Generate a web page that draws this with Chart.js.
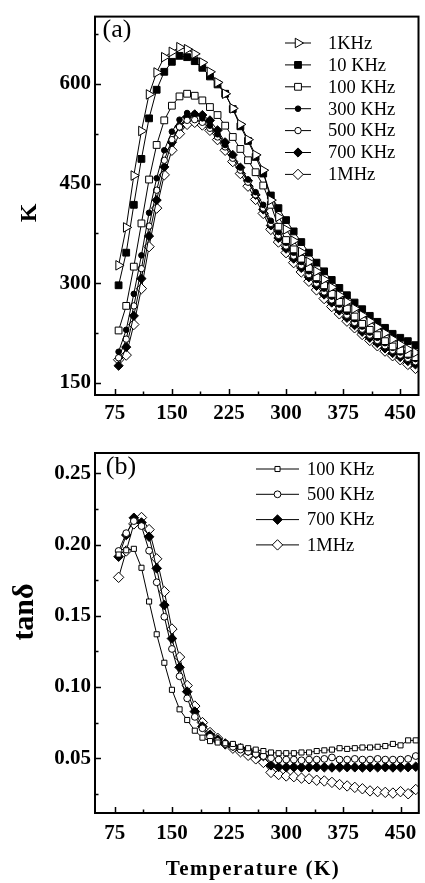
<!DOCTYPE html>
<html><head><meta charset="utf-8">
<script src="https://cdn.jsdelivr.net/npm/chart.js@4.4.1/dist/chart.umd.min.js"></script>
<style>
html,body{margin:0;padding:0;background:#fff;width:425px;height:883px;overflow:hidden}
canvas{position:absolute;left:0}
#c1{top:0;width:425px;height:430px}
#c2{top:430px;width:425px;height:453px}
</style></head><body>
<canvas id="c1" width="425" height="430"></canvas>
<canvas id="c2" width="425" height="453"></canvas>
<script>
// ---------- data ----------
const temperatures = [80,90,100,110,120,130,140,150,160,170,180,190,200,210,220,230,240,250,260,270,280,290,300,310,320,330,340,350,360,370,380,390,400,410,420,430,440,450,460,470];

// panel (a): dielectric constant K
const k1KHz   = [327,384,462,529,584,617,640,648,655,652,645,632,618,602,585,563,539,516,493,470,425,400,381,364,347,332,318,306,294,282,272,262,252,243,234,225,216,208,201,196];
const k10KHz  = [297,346,418,487,548,591,618,633,642,640,634,624,611,599,585,562,536,514,490,465,432,413,395,378,362,346,331,318,305,293,282,271,261,251,242,233,224,218,213,207];
const k100KHz = [229,266,325,390,456,508,545,567,581,585,582,575,565,553,537,520,502,485,467,447,418,385,365,351,337,323,309,297,284,272,262,250,239,230,222,213,205,199,194,189];
const k300KHz = [197,230,284,342,406,458,500,528,546,556,555,548,537,524,508,492,474,456,437,418,394,377,361,346,332,318,305,292,280,268,257,246,235,226,218,210,203,196,191,186];
const k500KHz = [188,216,266,322,386,440,485,516,535,545,546,542,533,520,505,488,470,452,433,413,390,372,356,341,327,313,300,287,275,263,252,241,231,222,214,206,199,192,187,182];
const k700KHz = [176,204,251,307,371,425,475,512,536,550,554,553,545,530,512,493,474,454,433,411,387,368,352,337,323,309,296,283,271,259,248,237,227,218,210,202,195,189,183,178];
const k1MHz   = [185,192,238,292,355,413,463,500,525,539,542,538,530,516,500,483,465,446,426,405,381,362,346,331,317,303,290,277,265,254,243,233,223,214,206,198,191,185,178,172];

// panel (b): tan delta
const t100KHz = [0.193,0.196,0.197,0.1837,0.160,0.137,0.117,0.098,0.0843,0.0768,0.0693,0.0644,0.062,0.061,0.0605,0.060,0.058,0.057,0.056,0.055,0.054,0.0535,0.0535,0.0535,0.054,0.054,0.055,0.0555,0.056,0.057,0.0565,0.057,0.0575,0.0575,0.058,0.0585,0.060,0.059,0.0625,0.0625];
const t500KHz = [0.1955,0.208,0.2165,0.213,0.1957,0.1735,0.1493,0.1267,0.1075,0.092,0.079,0.071,0.065,0.062,0.060,0.058,0.056,0.0545,0.053,0.0515,0.050,0.049,0.049,0.049,0.0485,0.049,0.049,0.0495,0.0505,0.049,0.049,0.0495,0.049,0.049,0.0495,0.049,0.049,0.049,0.0495,0.0515];
const t700KHz = [0.1915,0.2067,0.2188,0.2155,0.2055,0.1833,0.1575,0.134,0.1138,0.0967,0.0827,0.0722,0.0665,0.063,0.060,0.0585,0.057,0.055,0.053,0.0515,0.045,0.0438,0.0436,0.0437,0.0435,0.0436,0.0437,0.0436,0.0435,0.0436,0.0437,0.0436,0.0435,0.0436,0.0436,0.0437,0.0435,0.0436,0.0437,0.044];
const t1MHz   = [0.177,0.1955,0.2145,0.219,0.2105,0.19,0.167,0.1407,0.121,0.101,0.0866,0.075,0.068,0.064,0.060,0.057,0.0545,0.052,0.0495,0.047,0.040,0.0385,0.0375,0.037,0.036,0.0355,0.0345,0.034,0.033,0.0315,0.0305,0.0295,0.0285,0.027,0.0265,0.026,0.0255,0.0265,0.025,0.028];

// ticks / labels
const tempTicks  = [75,150,225,300,375,450];
const tempMinor  = [112.5,187.5,262.5,337.5,412.5];
const kTicks     = [150,300,450,600];
const kMinor     = [225,375,525,675];
const tanTicks   = [0.05,0.10,0.15,0.20,0.25];
const tanMinor   = [0.025,0.075,0.125,0.175,0.225];
const labelsA    = ['1KHz','10 KHz','100 KHz','300 KHz','500 KHz','700 KHz','1MHz'];
const labelsB    = ['100 KHz','500 KHz','700 KHz','1MHz'];

// ---------- helpers ----------
const SERIF = '"Liberation Serif","Times New Roman",serif';
const pts = arr => temperatures.map((t,i)=>({x:t,y:arr[i]}));

function ds(label, arr, style){
  return Object.assign({
    label, data: pts(arr), showLine:true, borderColor:'#000', borderWidth:1, tension:0,
    pointBorderColor:'#000', pointBorderWidth:1, pointHoverRadius:0
  }, style);
}
function mk(style, r, fill, rot){ return {pointStyle:style, pointRadius:r, pointBackgroundColor:fill, pointRotation:rot||0}; }

const decor = {
  id:'decor',
  afterDraw(chart, args, o){
    const {ctx, chartArea:a, scales} = chart;
    const x = scales.x, y = scales.y;
    ctx.save();
    ctx.strokeStyle = '#000';
    ctx.lineWidth = 1.5;
    ctx.beginPath();
    o.xMajor.forEach(v=>{const p=Math.round(x.getPixelForValue(v))+0.5; ctx.moveTo(p,a.bottom); ctx.lineTo(p,a.bottom-6);});
    o.xMinor.forEach(v=>{const p=Math.round(x.getPixelForValue(v))+0.5; ctx.moveTo(p,a.bottom); ctx.lineTo(p,a.bottom-3.5);});
    o.yMajor.forEach(v=>{const p=Math.round(y.getPixelForValue(v))+0.5; ctx.moveTo(a.left,p); ctx.lineTo(a.left+6,p);});
    o.yMinor.forEach(v=>{const p=Math.round(y.getPixelForValue(v))+0.5; ctx.moveTo(a.left,p); ctx.lineTo(a.left+3.5,p);});
    ctx.stroke();
    ctx.lineWidth = 2;
    ctx.strokeRect(a.left, a.top, a.right-a.left, a.bottom-a.top);
    // legend
    const L = o.legend;
    chart.data.datasets.forEach((d,i)=>{
      const ly = L.y + i*L.step;
      ctx.lineWidth = 1; ctx.strokeStyle='#000';
      ctx.beginPath(); ctx.moveTo(L.x1, ly); ctx.lineTo(L.x2, ly); ctx.stroke();
      ctx.fillStyle = d.pointBackgroundColor; ctx.strokeStyle = '#000'; ctx.lineWidth = 1;
      Chart.helpers.drawPoint(ctx, {pointStyle:d.pointStyle, rotation:d.pointRotation||0, radius:d.pointRadius, borderWidth:1}, (L.x1+L.x2)/2, ly);
      ctx.fillStyle = '#000';
      ctx.font = L.font; ctx.textBaseline = 'middle'; ctx.textAlign = 'left';
      ctx.fillText(d.label, L.tx, ly+1);
    });
    // texts
    o.texts.forEach(t=>{
      ctx.save();
      ctx.fillStyle = '#000'; ctx.font = t.font; ctx.textAlign = 'center'; ctx.textBaseline = 'middle';
      if (t.ls) ctx.letterSpacing = t.ls;
      ctx.translate(t.x, t.y);
      if (t.rot) ctx.rotate(t.rot);
      ctx.fillText(t.text, 0, 0);
      ctx.restore();
    });
    ctx.restore();
  }
};

function scales(yMin, yMax, yTicks, fmt, xHeight, xPad){
  const tickFont = {family:SERIF, weight:'bold', size:21};
  return {
    x: {type:'linear', min:49, max:474,
        grid:{display:false, drawTicks:false}, border:{display:false},
        ticks:{font:tickFont, color:'#000', padding:xPad, maxRotation:0, autoSkip:false},
        afterBuildTicks: s => { s.ticks = tempTicks.map(v=>({value:v})); },
        afterFit: s => { s.height = xHeight; }},
    y: {type:'linear', min:yMin, max:yMax,
        grid:{display:false, drawTicks:false}, border:{display:false},
        ticks:{font:tickFont, color:'#000', padding:4, autoSkip:false, callback: fmt},
        afterBuildTicks: s => { s.ticks = yTicks.map(v=>({value:v})); },
        afterFit: s => { s.width = 95; }}
  };
}

const common = {responsive:false, animation:false, devicePixelRatio:1, events:[]};

// ---------- panel (a) ----------
const dsA = [
  ds(labelsA[0], k1KHz,   mk('triangle',5.5,'#fff',90)),
  ds(labelsA[1], k10KHz,  mk('rect',4.8,'#000')),
  ds(labelsA[2], k100KHz, mk('rect',4.8,'#fff')),
  ds(labelsA[3], k300KHz, mk('circle',2.8,'#000')),
  ds(labelsA[4], k500KHz, mk('circle',3.2,'#fff')),
  ds(labelsA[5], k700KHz, mk('rectRot',4.6,'#000')),
  ds(labelsA[6], k1MHz,   mk('rectRot',5.2,'#fff'))
];
new Chart(document.getElementById('c1'), {
  type:'scatter',
  data:{datasets:dsA},
  options: Object.assign({}, common, {
    layout:{padding:{top:11,right:2,left:0,bottom:0}},
    scales: scales(132, 701, kTicks, v=>String(v), 35, 6),
    plugins:{legend:{display:false}, tooltip:{enabled:false},
      decor:{xMajor:tempTicks, xMinor:tempMinor, yMajor:kTicks, yMinor:kMinor,
        legend:{x1:285, x2:311, y:43, step:21.9, tx:328, font:'18.5px '+SERIF},
        texts:[
          {text:'(a)', x:117, y:30, font:'26px '+SERIF},
          {text:'K', x:30, y:213, font:'bold 24px '+SERIF, rot:-Math.PI/2}
        ]}}
  }),
  plugins:[decor]
});

// ---------- panel (b) ----------
const dsB = [
  ds(labelsB[0], t100KHz, mk('rect',3.6,'#fff')),
  ds(labelsB[1], t500KHz, mk('circle',3.4,'#fff')),
  ds(labelsB[2], t700KHz, mk('rectRot',4.8,'#000')),
  ds(labelsB[3], t1MHz,   mk('rectRot',5.2,'#fff'))
];
new Chart(document.getElementById('c2'), {
  type:'scatter',
  data:{datasets:dsB},
  options: Object.assign({}, common, {
    layout:{padding:{top:23,right:2,left:0,bottom:0}},
    scales: scales(0.0115, 0.2643, tanTicks, v=>v.toFixed(2), 70, 8),
    plugins:{legend:{display:false}, tooltip:{enabled:false},
      decor:{xMajor:tempTicks, xMinor:tempMinor, yMajor:tanTicks, yMinor:tanMinor,
        legend:{x1:256, x2:299, y:39, step:25.3, tx:307, font:'18.5px '+SERIF},
        texts:[
          {text:'(b)', x:121, y:37, font:'26px '+SERIF},
          {text:'tan\u03B4', x:25, y:182, font:'bold 30px '+SERIF, rot:-Math.PI/2},
          {text:'Temperature (K)', x:253, y:440, font:'bold 21px '+SERIF, ls:'1.5px'}
        ]}}
  }),
  plugins:[decor]
});
</script>
</body></html>
